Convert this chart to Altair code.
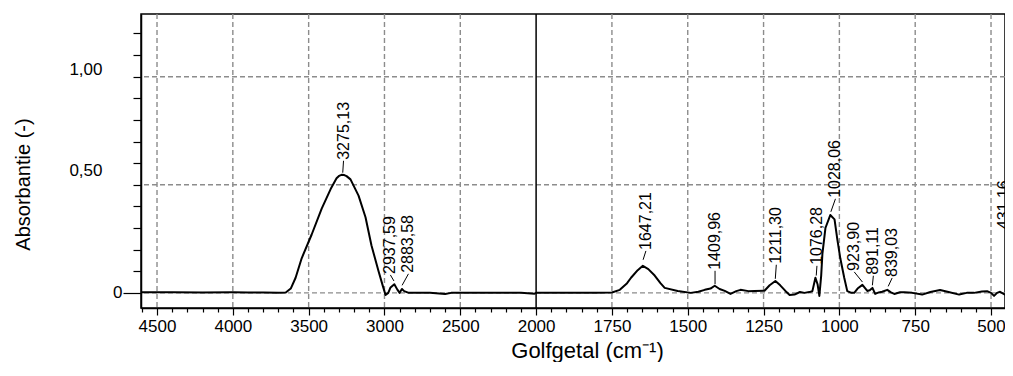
import altair as alt
import pandas as pd

# ---- spectrum (wavenumber in cm-1, absorbance) ----
wavenumber = [4600, 4400, 4200, 4000, 3900, 3800, 3700, 3651, 3618, 3586, 3546, 3480, 3414,
              3355, 3316, 3300, 3283, 3265, 3250, 3224, 3171, 3125, 3086, 3039, 3010, 2993, 2975, 2960,
              2935, 2915, 2900, 2885, 2870, 2840, 2800, 2700, 2600, 2560, 2450, 2300, 2200,
              2100, 2010, 2000, 1900, 1800, 1750, 1724, 1700, 1687, 1665, 1648, 1630, 1609,
              1590, 1576, 1533, 1490, 1465, 1444, 1425, 1411, 1395, 1378, 1359, 1340, 1326,
              1300, 1280, 1247, 1230, 1211, 1195, 1178, 1164, 1148, 1130, 1115, 1095, 1089,
              1079, 1072, 1066, 1060, 1056, 1046, 1030, 1016, 1007, 997, 984, 974, 960, 951,
              940, 924, 908, 900, 891, 882, 870, 859, 842, 830, 819, 800, 786, 760, 727, 700,
              668, 640, 605, 580, 556, 530, 513, 500, 490, 480, 470, 460, 454, 445, 441]
absorbance = [0.003, 0.003, 0.002, 0.003, 0.002, 0.002, 0.001, 0.002, 0.02, 0.07, 0.16, 0.27, 0.39,
              0.48, 0.53, 0.541, 0.546, 0.545, 0.54, 0.525, 0.45, 0.35, 0.22, 0.10, 0.03, -0.01, 0.0, 0.025,
              0.04, 0.015, 0.0, 0.018, 0.008, 0.0, 0.001, 0.0, -0.005, 0.0, 0.0, 0.001, 0.0,
              0.001, -0.004, 0.0, 0.001, 0.0, 0.002, 0.014, 0.045, 0.07, 0.105, 0.125, 0.11, 0.08,
              0.045, 0.023, 0.009, 0.0, 0.005, 0.014, 0.02, 0.033, 0.018, 0.009, -0.005, 0.008, 0.014,
              0.008, 0.009, 0.01, 0.035, 0.055, 0.035, 0.009, -0.01, -0.008, 0.004, 0.0, 0.005, 0.008,
              0.07, 0.04, -0.014, 0.08, 0.18, 0.30, 0.36, 0.34, 0.25, 0.16, 0.07, 0.008, 0.0, 0.0,
              0.02, 0.037, 0.009, 0.012, 0.023, -0.005, 0.002, 0.005, 0.014, 0.002, -0.005, 0.003, 0.003, 0.0, -0.008, 0.004,
              0.013, 0.004, -0.008, 0.0, 0.0, 0.006, 0.008, 0.0, -0.014, 0.0, 0.005, -0.003, -0.008, 0.002, 0.0]

# ---- peak annotations ----
peak_labels = ["3275,13", "2937,59", "2883,58", "1647,21", "1409,96", "1211,30",
               "1076,28", "1028,06", "923,90", "891,11", "839,03", "431,16"]
peak_wn = [3275.13, 2937.59, 2883.58, 1647.21, 1409.96, 1211.30,
           1076.28, 1028.06, 923.90, 891.11, 839.03, 457]
leader_low = [0.556, 0.055, 0.035, 0.153, 0.04, 0.065, 0.08, 0.375, 0.05, 0.035, 0.03, 0.29]
label_wn = [3270, 2961, 2842, 1638, 1410, 1208, 1074, 1013, 951, 888, 826, 457]
label_base = [0.611, 0.083, 0.088, 0.194, 0.102, 0.13, 0.125, 0.435, 0.097, 0.079, 0.069, 0.29]

# ---- grid ----
grid_wn = [4500, 4000, 3500, 3000, 2500, 1750, 1500, 1250, 1000, 750, 500]
break_wn = [2000]
grid_abs = [0, 0.5, 1.0]
y_tick_values = [0, 0.1, 0.2, 0.3, 0.4, 0.5, 0.6, 0.7, 0.8, 0.9, 1.0, 1.1, 1.2]
x_tick_values = list(range(500, 3301, 50))  # in broken-axis units

FONT = "Liberation Sans"


def u_expr(f):
    return f"datum.{f} > 2000 ? 2000 + (datum.{f} - 2000) / 2 : datum.{f}"


x_scale = alt.Scale(domain=[3302.8, 453.9], nice=False, zero=False)
y_scale = alt.Scale(domain=[-0.07, 1.29], nice=False, zero=False)

x_axis = alt.Axis(
    values=x_tick_values,
    labelExpr="datum.value % 250 == 0 ? (datum.value > 2000 ? format(2000 + 2 * (datum.value - 2000), 'd') : format(datum.value, 'd')) : ''",
    tickSize={"condition": {"test": "datum.value % 250 == 0", "value": 7}, "value": 4},
    labelPadding=3,
    labelOverlap=False,
    labelFlush=False,
    labelFontSize=17,
    grid=False,
    title="Golfgetal (cm⁻¹)",
    titleFontSize=22,
    titleFontWeight="normal",
    titleX=446,
    titleY=49,
    titleBaseline="alphabetic",
    titleAlign="center",
)

y_axis = alt.Axis(
    values=y_tick_values,
    labelExpr="datum.value == 0 ? '0' : abs(datum.value - 0.5) < 0.001 ? '0,50' : abs(datum.value - 1) < 0.001 ? '1,00' : ''",
    tickSize={"condition": {"test": "datum.value == 0", "value": 18}, "value": 8},
    labelPadding={"condition": {"test": "datum.value == 0", "value": 1}, "value": 31},
    labelOffset={"condition": [
        {"test": "abs(datum.value - 0.5) < 0.001", "value": -14},
        {"test": "abs(datum.value - 1) < 0.001", "value": -7}], "value": 0},
    labelOverlap=False,
    labelFontSize=17,
    grid=False,
    title="Absorbantie (-)",
    titleFontSize=20,
    titleFontWeight="normal",
    titleAngle=270,
    titleX=-118,
    titleY=170,
    titleAlign="center",
    titleBaseline="middle",
)

spec_df = pd.DataFrame({"w": wavenumber, "a": absorbance})
peak_df = pd.DataFrame({"label": peak_labels, "pw": peak_wn, "lo": leader_low,
                        "lw": label_wn, "base": label_base})

vgrid = alt.Chart(pd.DataFrame({"w": grid_wn})).transform_calculate(
    u=u_expr("w")).mark_rule(color="#8c8c8c", strokeDash=[5, 3], strokeWidth=1.4).encode(
    x=alt.X("u:Q", scale=x_scale, axis=x_axis))

hgrid = alt.Chart(pd.DataFrame({"a": grid_abs})).mark_rule(
    color="#8c8c8c", strokeDash=[5, 3], strokeWidth=1.4).encode(
    y=alt.Y("a:Q", scale=y_scale, axis=y_axis))

brk = alt.Chart(pd.DataFrame({"w": break_wn})).transform_calculate(
    u=u_expr("w")).mark_rule(color="black", strokeWidth=1.5).encode(
    x=alt.X("u:Q", scale=x_scale, axis=x_axis))

line = alt.Chart(spec_df).transform_calculate(u=u_expr("w")).mark_line(
    color="black", strokeWidth=2, strokeJoin="round", clip=True).encode(
    x=alt.X("u:Q", scale=x_scale, axis=x_axis),
    y=alt.Y("a:Q", scale=y_scale, axis=y_axis))

leaders = alt.Chart(peak_df).transform_calculate(
    u1=u_expr("pw"), u2=u_expr("lw")).mark_rule(color="black", strokeWidth=1).encode(
    x=alt.X("u1:Q", scale=x_scale, axis=x_axis),
    x2="u2:Q",
    y=alt.Y("lo:Q", scale=y_scale, axis=y_axis),
    y2="base:Q")

texts = alt.Chart(peak_df).transform_calculate(u2=u_expr("lw")).mark_text(
    angle=270, align="left", baseline="middle", fontSize=16, font=FONT, color="black", dx=1).encode(
    x=alt.X("u2:Q", scale=x_scale, axis=x_axis),
    y=alt.Y("base:Q", scale=y_scale, axis=y_axis),
    text="label:N")

chart = alt.layer(vgrid, hgrid, brk, line, leaders, texts).properties(
    width=864, height=294,
    padding={"left": 133, "top": 6, "right": 0, "bottom": 54},
    autosize=alt.AutoSizeParams(type="none"),
).configure_view(stroke="black", strokeWidth=1.5).configure_axis(
    labelFont=FONT, titleFont=FONT, labelColor="black", titleColor="black",
    domainColor="black", domainWidth=1.5, tickColor="black", tickWidth=1.2,
)

chart.save("out.html", embed_options={"renderer": "svg", "actions": False})
